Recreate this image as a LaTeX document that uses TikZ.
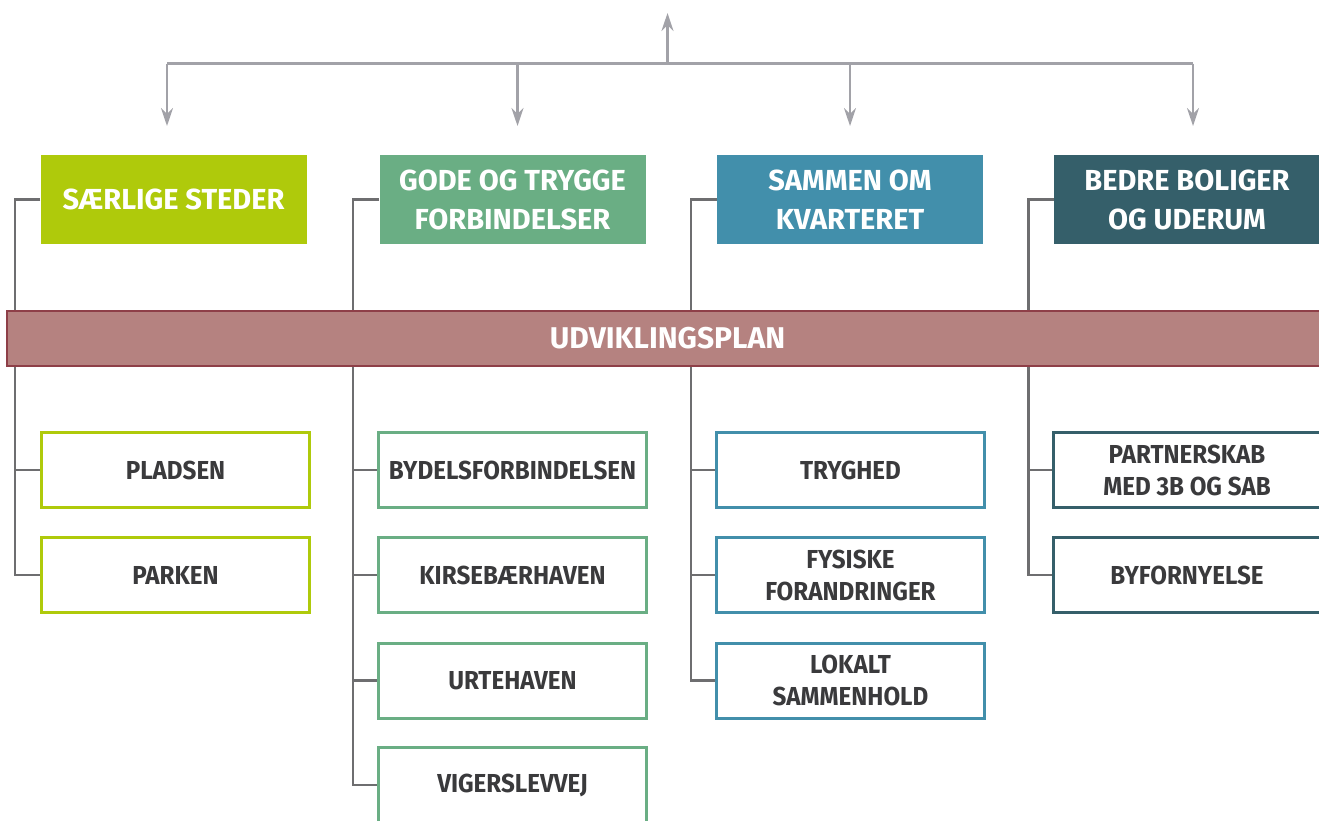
\documentclass[tikz,border=0pt]{standalone}
\usepackage{fontspec}
\setmainfont{Fira Sans}
\newfontfamily\subfont{Fira Sans}[FakeStretch=0.93]
\usetikzlibrary{arrows.meta}
\definecolor{limec}{HTML}{AFCA0B}
\definecolor{greenc}{HTML}{6AAE84}
\definecolor{bluec}{HTML}{428FAB}
\definecolor{darkc}{HTML}{355F6A}
\definecolor{bannerfill}{HTML}{B58280}
\definecolor{bannerdraw}{HTML}{8E3F48}
\definecolor{linegray}{HTML}{6E6E70}
\definecolor{arrgray}{HTML}{A2A2A8}
\definecolor{txt}{HTML}{3A3A3C}
\tikzset{
  head/.style={rectangle, inner sep=0pt, minimum width=266, minimum height=89, text=white,
    font=\fontsize{29}{39}\selectfont\bfseries, align=center},
  subbox/.style={rectangle, draw, line width=3, fill=white, inner sep=0pt, minimum width=268,
    minimum height=75, text=txt, font=\subfont\fontsize{26}{32}\selectfont\bfseries, align=center},
  tree/.style={draw=linegray, line width=2.5},
  gline/.style={draw=arrgray, line width=2.5},
  arr/.style={gline, -{Stealth[length=18,width=12]}},
  banner/.style={rectangle, draw=bannerdraw, fill=bannerfill, line width=2, inner sep=0pt,
    minimum width=1321, minimum height=55, text=white, font=\fontsize{30}{34}\selectfont\bfseries}
}
\begin{document}
\begin{tikzpicture}[x=1pt,y=-1pt]
\useasboundingbox (0,0) rectangle (1319,820);
\clip (0,0) rectangle (1319,820);

% top arrows
\coordinate (hub) at (667.5,63.5);
\coordinate (top) at (667.5,13);
\coordinate (a1) at (167,126);
\coordinate (a2) at (517.5,126);
\coordinate (a3) at (850,126);
\coordinate (a4) at (1193,126);
\draw[gline] (a1 |- hub) -- (a4 |- hub);
\draw[arr] (hub) -- (top);
\foreach \a in {a1,a2,a3,a4} \draw[arr] (\a |- hub) -- (\a);

% headers
\node[head, fill=limec] (h1) at (173.5,199.5) {SÆRLIGE STEDER};
\node[head, fill=greenc] (h2) at (512.5,199.5) {GODE OG TRYGGE\\FORBINDELSER};
\node[head, fill=bluec] (h3) at (850,199.5) {SAMMEN OM\\KVARTERET};
\node[head, fill=darkc] (h4) at (1187,199.5) {BEDRE BOLIGER\\OG UDERUM};

% sub boxes
\node[subbox, draw=limec] (s11) at (175.5,470) {PLADSEN};
\node[subbox, draw=limec] (s12) at (175.5,575) {PARKEN};
\node[subbox, draw=greenc] (s21) at (512.5,470) {BYDELSFORBINDELSEN};
\node[subbox, draw=greenc] (s22) at (512.5,575) {KIRSEBÆRHAVEN};
\node[subbox, draw=greenc] (s23) at (512.5,680.5) {URTEHAVEN};
\node[subbox, draw=greenc] (s24) at (512.5,785) {VIGERSLEVVEJ};
\node[subbox, draw=bluec] (s31) at (850.5,470) {TRYGHED};
\node[subbox, draw=bluec] (s32) at (850.5,575) {FYSISKE\\FORANDRINGER};
\node[subbox, draw=bluec] (s33) at (850.5,680.5) {LOKALT\\SAMMENHOLD};
\node[subbox, draw=darkc] (s41) at (1187,470) {PARTNERSKAB\\MED 3B OG SAB};
\node[subbox, draw=darkc] (s42) at (1187,575) {BYFORNYELSE};

% tree lines
\draw[tree] (h1.west) -- ++(-25.5,0) coordinate (c1) |- (s12.west);
\draw[tree] (c1 |- s11.west) -- (s11.west);
\draw[tree] (h2.west) -- ++(-26.5,0) coordinate (c2) |- (s24.west);
\foreach \s in {s21,s22,s23} \draw[tree] (c2 |- \s.west) -- (\s.west);
\draw[tree] (h3.west) -- ++(-26,0) coordinate (c3) |- (s33.west);
\foreach \s in {s31,s32} \draw[tree] (c3 |- \s.west) -- (\s.west);
\draw[tree] (h4.west) -- ++(-25.5,0) coordinate (c4) |- (s42.west);
\draw[tree] (c4 |- s41.west) -- (s41.west);

% banner
\node[banner] (plan) at (667.5,338) {UDVIKLINGSPLAN};
\end{tikzpicture}
\end{document}
